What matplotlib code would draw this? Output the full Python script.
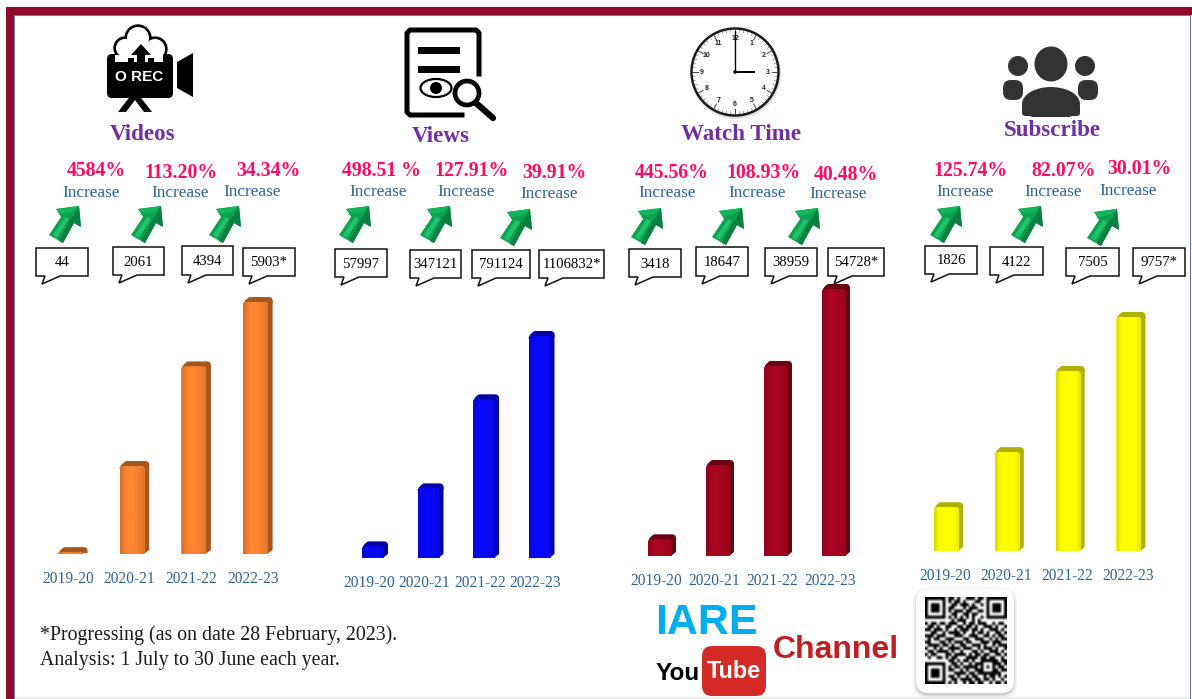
import numpy as np
import matplotlib
matplotlib.use("Agg")
import matplotlib.pyplot as plt
from matplotlib.patches import Polygon, Circle, Ellipse, Rectangle, FancyBboxPatch, PathPatch
from matplotlib.path import Path
from matplotlib.colors import to_rgb

W, H = 1192, 699
years = ["2019-20", "2020-21", "2021-22", "2022-23"]

videos = [44, 2061, 4394, 5903]
views = [57997, 347121, 791124, 1106832]
watch_time = [3418, 18647, 38959, 54728]
subscribe = [1826, 4122, 7505, 9757]

videos_labels = ["44", "2061", "4394", "5903*"]
views_labels = ["57997", "347121", "791124", "1106832*"]
watch_labels = ["3418", "18647", "38959", "54728*"]
subscribe_labels = ["1826", "4122", "7505", "9757*"]

videos_pct = ["4584%", "113.20%", "34.34%"]
views_pct = ["498.51 %", "127.91%", "39.91%"]
watch_pct = ["445.56%", "108.93%", "40.48%"]
subscribe_pct = ["125.74%", "82.07%", "30.01%"]

SERIF = "Liberation Serif"

fig = plt.figure(figsize=(W / 100, H / 100), dpi=100, facecolor="white")
bg = fig.add_axes([0, 0, 1, 1])
bg.set_xlim(0, W)
bg.set_ylim(H, 0)
bg.axis("off")

# frame
FR = "#8e0b2e"
bg.add_patch(Rectangle((6, 7), 1186, 7.5, fc=FR, ec="none"))
bg.add_patch(Rectangle((6, 7), 7.5, 692, fc=FR, ec="none"))
bg.add_patch(Rectangle((13.5, 14.5), 1177, 1.5, fc="#6f7fa8", ec="none"))
bg.add_patch(Rectangle((13.5, 14.5), 1.5, 685, fc="#6f7fa8", ec="none"))
bg.add_patch(Rectangle((1189.5, 14.5), 1.5, 685, fc="#5f6f90", ec="none"))
bg.add_patch(Rectangle((15, 697), 1175, 2, fc="#ececec", ec="none"))

PURPLE = "#7030a0"
PINK = "#ff0a66"
BLUE = "#2f6190"


def panel(vals, color, side, base, full, left0, pitch, w, dx, off):
    """A panel whose axes is placed in pixels, with bars drawn from the values."""
    px_per_unit = full / max(vals)
    top_px = 290
    ymax = top_px / px_per_unit
    x_left = left0 + w / 2 - pitch / 2
    ax = fig.add_axes([x_left / W, (H - base) / H, pitch * 4 / W, top_px / H])
    ax.set_xlim(-0.5, 3.5)
    ax.set_ylim(0, ymax)
    ax.patch.set_alpha(0)
    for s in ax.spines.values():
        s.set_visible(False)
    ax.set_yticks([])
    ux = 1 / pitch
    uy = 1 / px_per_unit
    bw = w * ux
    bars = ax.bar(range(4), vals, width=bw, color=color, linewidth=0, zorder=3)
    d = 5 * uy
    ddx = dx * ux
    for i, (b, v) in enumerate(zip(bars, vals)):
        xl, xr = i - bw / 2, i + bw / 2
        # side face, slanted at the foot
        ax.add_patch(Polygon([(xr - 1 * ux, 0), (xr + ddx, 4 * uy), (xr + ddx, v + d - 3 * uy),
                              (xr - 1 * ux, v)], fc=side, ec="none", zorder=2))
        # top cap with rounded corners
        verts = [(xl, v - 4 * uy), (xl, v + 1.5 * uy), (xl + ddx + 2 * ux, v + d),
                 (xr + ddx - 4 * ux, v + d), (xr + ddx, v + d), (xr + ddx, v + d - 4 * uy),
                 (xr + ddx, v - 1 * uy), (xl, v - 1 * uy), (xl, v - 4 * uy)]
        codes = [Path.MOVETO, Path.CURVE3, Path.CURVE3, Path.LINETO, Path.CURVE3, Path.CURVE3,
                 Path.LINETO, Path.LINETO, Path.CLOSEPOLY]
        ax.add_patch(PathPatch(Path(verts, codes), fc=side, ec="none", zorder=2.5))
        # front face with rounded top corners and soft shading
        r = min(3.5, max(v / uy, 0.5))
        clip_v = [(xl, 0), (xr, 0), (xr, v - r * uy), (xr, v), (xr - r * ux, v),
                  (xl + r * ux, v), (xl, v), (xl, v - r * uy), (xl, 0)]
        clip_c = [Path.MOVETO, Path.LINETO, Path.LINETO, Path.CURVE3, Path.CURVE3,
                  Path.LINETO, Path.CURVE3, Path.CURVE3, Path.CLOSEPOLY]
        clip = PathPatch(Path(clip_v, clip_c), transform=ax.transData)
        b.set_clip_path(clip)
        prof = np.array([0.88, 0.97, 1.03, 1.06, 1.04, 1.02, 1.0, 0.98, 0.93])
        grad = np.clip(np.array(to_rgb(color))[None, None, :] * prof[None, :, None], 0, 1)
        im = ax.imshow(grad, extent=(xl, xr, 0, v), aspect="auto", zorder=3.5,
                       interpolation="bilinear")
        im.set_clip_path(clip)
    ax.set_xlim(-0.5, 3.5)
    ax.set_ylim(0, ymax)
    ax.set_xticks([i + off / pitch for i in range(4)])
    ax.set_xticklabels(years, fontfamily=SERIF, fontsize=11.2, color=BLUE)
    ax.tick_params(axis="x", length=0, pad=12.2)
    return ax


panel(videos, "#f58030", "#a5561f", 554, 252, 58, 61.7, 25, 4.5, -2.5)
panel(views, "#0808f2", "#0505a5", 558, 222, 362, 55.5, 22, 4, -4)
panel(watch_time, "#a3051f", "#6a0314", 556, 267, 648, 58, 24, 4, -3.5)
panel(subscribe, "#ffff00", "#b0b000", 551, 234, 934, 60.8, 25, 4, -1)


def txt(x, y, s, **kw):
    kw.setdefault("ha", "center")
    kw.setdefault("va", "center")
    kw.setdefault("fontfamily", SERIF)
    bg.text(x, y, s, **kw)


for (x, y, s) in [(143, 134, "Videos"), (441, 136, "Views"), (741, 134, "Watch Time"), (1052, 131, "Subscribe")]:
    txt(x, y, s, color=PURPLE, fontsize=16.6, fontweight="bold", zorder=6)

pct_pos = [[(96, 170), (181, 171), (268, 170)], [(382, 170), (471, 170), (554, 172)],
           [(672, 171), (763, 172), (846, 173)], [(970, 170), (1064, 170), (1139, 168)]]
inc_pos = [[(91, 192), (180, 192), (252, 191)], [(378, 191), (466, 191), (549, 193)],
           [(667, 192), (757, 192), (838, 193)], [(965, 191), (1053, 191), (1128, 190)]]
for pos, ps in zip(pct_pos, [videos_pct, views_pct, watch_pct, subscribe_pct]):
    for (x, y), s in zip(pos, ps):
        txt(x, y + 1.5, s, color=PINK, fontsize=14.2, fontweight="bold")
for pos in inc_pos:
    for (x, y) in pos:
        txt(x, y + 1, "Increase", color=BLUE, fontsize=12.4)


def arrow(x0, y0):
    P = lambda L: [(x0 + a, y0 + b) for a, b in L]
    outline = [(31, 1), (33, 22), (26, 18), (15, 38), (1, 30), (13, 12), (8, 4)]
    bg.add_patch(Polygon(P(outline), fc="#0da04e", ec="none", zorder=5))
    bg.add_patch(Polygon(P([(31, 1), (33, 22), (26, 18), (15, 38), (11, 36), (22, 15), (26, 10)]),
                         fc="#0a7f40", ec="none", zorder=6))
    bg.add_patch(Polygon(P([(8, 4), (31, 1), (24, 7), (13, 9)]), fc="#12b45c", ec="none", zorder=6))
    bg.add_patch(Polygon(P([(5, 30), (17, 12), (21, 14), (9, 33)]), fc="#1fc46a", ec="none", zorder=6))


for x0, y0 in [(48, 205), (130, 205), (208, 205), (338, 205), (419, 205), (499, 208),
               (630, 207), (711, 207), (787, 207), (929, 205), (1010, 205), (1086, 208)]:
    arrow(x0, y0)


def callout(x0, x1, y0, y1, s):
    pts = [(x0, y0), (x1, y0), (x1, y1), (x0 + 24, y1), (x0 + 6, y1 + 8), (x0 + 9, y1), (x0, y1)]
    bg.add_patch(Polygon(pts, fc="white", ec="#111111", lw=1.1, zorder=7))
    txt((x0 + x1) / 2, (y0 + y1) / 2 + 1, s, color="black", fontsize=10.6, zorder=8)


boxes = [[(36, 88, 248, 276), (113, 164, 247, 275), (182, 233, 246, 275), (243, 295, 248, 276)],
         [(335, 387, 249, 277), (410, 461, 250, 278), (472, 530, 250, 278), (539, 604, 250, 278)],
         [(629, 681, 249, 277), (696, 748, 247, 276), (765, 817, 248, 276), (828, 884, 248, 276)],
         [(925, 977, 246, 274), (990, 1043, 247, 275), (1066, 1119, 248, 276), (1133, 1185, 248, 276)]]
for bx, ls in zip(boxes, [videos_labels, views_labels, watch_labels, subscribe_labels]):
    for (a, b, c, d), s in zip(bx, ls):
        callout(a, b, c, d, s)

# camera icon
K = "black"
bg.add_patch(FancyBboxPatch((109, 56), 62, 40, boxstyle="round,pad=2,rounding_size=5", fc=K, ec="none"))
bg.add_patch(Polygon([(177, 62), (193, 53), (193, 97), (177, 88)], fc=K, ec="none"))
bg.add_patch(Polygon([(118, 112), (132, 94), (138, 94), (152, 112), (144, 112), (135, 100), (126, 112)], fc=K, ec="none"))
for cx, cy, r in [(125, 48, 10), (138, 38, 12), (155, 49, 11)]:
    bg.add_patch(Circle((cx, cy), r, fc="white", ec=K, lw=2.4, zorder=2))
for cx, cy, r in [(125, 48, 9), (138, 38, 11), (155, 49, 10)]:
    bg.add_patch(Circle((cx, cy), r, fc="white", ec="none", zorder=2.6))
bg.add_patch(Rectangle((128, 42), 24, 16, fc="white", ec="none", zorder=2.6))
bg.add_patch(Rectangle((115, 55), 48, 7, fc="white", ec="none", zorder=3))
bg.add_patch(Rectangle((128, 58), 6, 5, fc=K, ec="none", zorder=3.1))
bg.add_patch(Rectangle((148, 58), 6, 5, fc=K, ec="none", zorder=3.1))
bg.add_patch(Polygon([(141, 44), (151, 55), (145, 55), (145, 66), (137, 66), (137, 55), (131, 55)], fc=K, ec="none", zorder=4))
txt(139, 77, "O REC", color="white", fontsize=11, fontweight="bold", fontfamily="Liberation Sans", zorder=5)

# document icon
bg.plot([479, 479, 476, 410, 407, 407, 410, 462], [74, 33, 30, 30, 33, 112, 115, 115], color=K, lw=3.6, solid_joinstyle="round")
bg.add_patch(Rectangle((418, 47), 42, 6.5, fc=K, ec="none"))
bg.add_patch(Rectangle((418, 66), 42, 6.5, fc=K, ec="none"))
bg.add_patch(Ellipse((436, 88), 31, 18, fc="white", ec=K, lw=1.6))
bg.add_patch(Circle((436, 88), 6, fc=K, ec="none"))
bg.add_patch(Circle((467, 93), 12, fc="white", ec=K, lw=3.4))
bg.plot([476, 493], [103, 118], color=K, lw=4.5, solid_capstyle="round")

# clock icon
bg.add_patch(Circle((736, 74), 45, fc="#cccccc", ec="none", alpha=0.6))
bg.add_patch(Circle((735, 72), 43.5, fc="white", ec="#1a1a1a", lw=1.8))
for h in range(60):
    a = np.radians(h * 6)
    r0 = 37 if h % 5 == 0 else 40
    bg.plot([735 + r0 * np.sin(a), 735 + 42 * np.sin(a)], [72 - r0 * np.cos(a), 72 - 42 * np.cos(a)],
            color="#444444", lw=0.7 if h % 5 == 0 else 0.3)
for n in range(1, 13):
    a = np.radians(n * 30)
    bg.text(735 + 33 * np.sin(a), 72 - 33 * np.cos(a), str(n), ha="center", va="center",
            fontsize=5, fontweight="bold", color="#222222", fontfamily="Liberation Sans")
bg.plot([735, 735], [72, 31], color=K, lw=1)
bg.plot([735, 754], [72, 72], color=K, lw=1.4)
bg.add_patch(Circle((735, 72), 1.8, fc=K, ec="none"))

# people icon
G = "#333333"
bg.add_patch(Ellipse((1051, 64), 33, 35, fc=G, ec="none"))
bg.add_patch(Circle((1018, 66), 10, fc=G, ec="none"))
bg.add_patch(Circle((1085, 66), 10, fc=G, ec="none"))
bg.add_patch(FancyBboxPatch((1003, 80), 20, 20, boxstyle="round,pad=0,rounding_size=8", fc=G, ec="none"))
bg.add_patch(FancyBboxPatch((1078, 80), 20, 20, boxstyle="round,pad=0,rounding_size=8", fc=G, ec="none"))
bg.add_patch(Ellipse((1051, 106), 66, 38, fc="white", ec="none", zorder=2.5))
bg.add_patch(Ellipse((1051, 104), 58, 34, fc=G, ec="none", zorder=3))
bg.add_patch(FancyBboxPatch((1022, 104), 58, 12, boxstyle="round,pad=0,rounding_size=3", fc=G, ec="none", zorder=3))
bg.add_patch(Rectangle((1015, 116.5), 72, 7, fc="white", ec="none", zorder=3.2))

# footnote
bg.text(40, 635, "*Progressing (as on date 28 February, 2023).", ha="left", va="center", fontfamily=SERIF, fontsize=14.3, color="#1a1a1a")
bg.text(40, 660, "Analysis: 1 July to 30 June each year.", ha="left", va="center", fontfamily=SERIF, fontsize=14.3, color="#1a1a1a")


def fit(x, y, s, width_px, base_size, **kw):
    """Real text whose font size is chosen to span a given pixel width."""
    t = bg.text(x, y, s, ha="center", va="center", fontsize=base_size, fontweight="bold",
                fontfamily="Liberation Sans", **kw)
    w = t.get_window_extent(fig.canvas.get_renderer()).width
    t.set_fontsize(base_size * width_px / w)
    return t


# logo
bg.text(706, 623, "IARE", ha="center", va="center", color="#00aeef", fontsize=31, fontweight="bold", fontfamily="Liberation Sans")
fit(678, 673, "You", 44, 20, color="black")
bg.add_patch(FancyBboxPatch((704, 648), 60, 46, boxstyle="round,pad=2,rounding_size=10", fc="#d42a26", ec="none"))
fit(734, 672, "Tube", 54, 20, color="white", zorder=5)
fit(836, 650, "Channel", 127, 24, color="#bf2026")

# QR tile
qr_rows = [
    "0000000011010011101100000000",
    "0000000010110100011000000000",
    "0000000001101110100100000000",
    "0000000011000101110000000000",
    "0000000010111011001100000000",
    "0000000001100110110000000000",
    "0000000010101010100100000000",
    "0000000001011100101000000000",
    "1011011011100101101110010110",
    "0110100110011011010011101001",
    "1101110100101110110100111010",
    "0011001011110100101101001101",
    "1110111000111001110011010110",
    "0101100111000110011100101011",
    "1100011010111011000111011100",
    "0111101101001100111010010111",
    "1001010011110111001011101001",
    "0110111101001000110100111010",
    "1011000110111101011011001101",
    "0100110101100011110110110010",
    "0000000011010110100111111011",
    "0000000001101001011100011101",
    "0000000010110111110101010110",
    "0000000011001010011100011011",
    "0000000000111101101111111100",
    "0000000011010010110010110101",
    "0000000001101111011011010010",
    "0000000010100101101100101101",
]
qr = np.array([[int(c) for c in r] for r in qr_rows], dtype=float)
for (r, c) in [(0, 0), (0, 21), (21, 0)]:
    qr[r:r + 7, c:c + 7] = 1
    qr[r + 1:r + 6, c + 1:c + 6] = 0
    qr[r + 2:r + 5, c + 2:c + 5] = 1
for pad_s, al in [(7, 0.10), (5.5, 0.16), (4.5, 0.25)]:
    bg.add_patch(FancyBboxPatch((920, 595), 90, 96, boxstyle=f"round,pad={pad_s},rounding_size=14", fc="#999999", ec="none", alpha=al))
bg.add_patch(FancyBboxPatch((920, 593), 90, 96, boxstyle="round,pad=4,rounding_size=13", fc="white", ec="none"))
bg.imshow(1 - qr, cmap="gray", vmin=0, vmax=1, extent=(925, 1007, 684, 597), aspect="auto", interpolation="bilinear", zorder=4)
bg.set_xlim(0, W)
bg.set_ylim(H, 0)

fig.savefig("out.png", dpi=100)
